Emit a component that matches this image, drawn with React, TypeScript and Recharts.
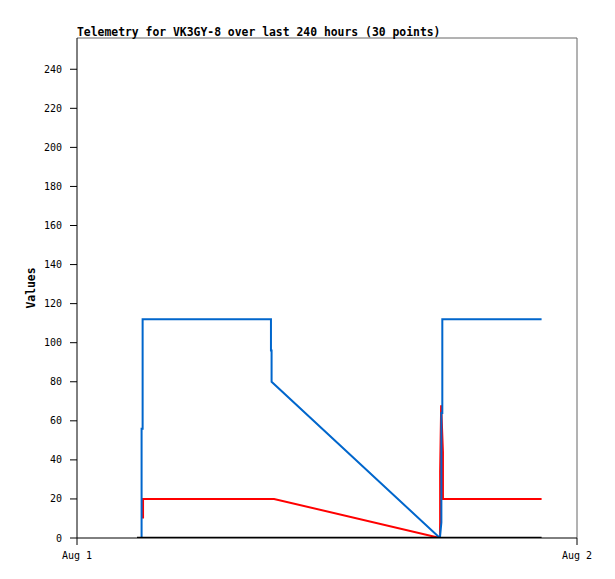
import React from 'react';
import {
    LineChart,
    Line,
    XAxis,
    YAxis,
    ReferenceLine,
    Label,
} from 'recharts';

// time in hours after Aug 1 00:00
const blueTimes = [3.1, 3.1, 3.15, 3.15, 9.31, 9.31, 9.34, 9.34, 17.42, 17.49, 17.49, 17.535, 17.535, 22.3];
const blueValues = [0, 56, 56, 112, 112, 96, 96, 80, 0, 8, 64, 64, 112, 112];

const redTimes = [3.17, 3.17, 9.46, 17.42, 17.43, 17.43, 17.48, 17.565, 17.565, 22.3];
const redValues = [10, 20, 20, 0, 8, 34, 68, 44, 20, 20];

const blackTimes = [2.88, 22.3];
const blackValues = [0, 0];

const xTicks = [0, 24];
const xTickLabels = ['Aug 1', 'Aug 2'];
const yTicks = [0, 20, 40, 60, 80, 100, 120, 140, 160, 180, 200, 220, 240];

const title = 'Telemetry for VK3GY-8 over last 240 hours (30 points)';

const toRows = (times: number[], values: number[]) =>
    times.map((t, i) => ({ t, v: values[i] }));

const blueData = toRows(blueTimes, blueValues);
const redData = toRows(redTimes, redValues);
const blackData = toRows(blackTimes, blackValues);

const mono = '"DejaVu Sans Mono", monospace';
const tickStyle = { fontSize: 10, fontFamily: mono, fill: '#000' };

export default function App() {
    return (
        <div style={{ position: 'absolute', left: 0, top: 0, width: 615, height: 579 }}>
            <LineChart
                width={615}
                height={579}
                margin={{ top: 38, right: 38, bottom: 11, left: 20 }}
            >
                <XAxis
                    type="number"
                    dataKey="t"
                    domain={[0, 24]}
                    ticks={xTicks}
                    tickFormatter={(v: number) => xTickLabels[xTicks.indexOf(v)]}
                    height={30}
                    tickSize={7}
                    tickMargin={7}
                    stroke="#000"
                    tick={tickStyle}
                    allowDataOverflow
                />
                <YAxis
                    type="number"
                    domain={[0, 256]}
                    ticks={yTicks}
                    width={57}
                    tickSize={7}
                    tickMargin={8}
                    stroke="#000"
                    tick={tickStyle}
                    allowDataOverflow
                >
                    <Label
                        content={() => (
                            <text
                                x={31}
                                y={288}
                                transform="rotate(-90 31 288)"
                                textAnchor="middle"
                                dominantBaseline="central"
                                fontFamily={mono}
                                fontWeight="bold"
                                fontSize={11.4}
                                fill="#000"
                            >
                                Values
                            </text>
                        )}
                    />
                </YAxis>
                <ReferenceLine y={256} stroke="#666" />
                <ReferenceLine x={24} stroke="#666" />
                <Line
                    data={redData}
                    dataKey="v"
                    type="linear"
                    stroke="#ff0000"
                    strokeWidth={2}
                    dot={false}
                    activeDot={false}
                    isAnimationActive={false}
                />
                <Line
                    data={blueData}
                    dataKey="v"
                    type="linear"
                    stroke="#0066cc"
                    strokeWidth={2}
                    dot={false}
                    activeDot={false}
                    isAnimationActive={false}
                />
                <Line
                    data={blackData}
                    dataKey="v"
                    type="linear"
                    stroke="#000"
                    strokeWidth={2.5}
                    dot={false}
                    activeDot={false}
                    isAnimationActive={false}
                />
            </LineChart>
            <svg
                width={615}
                height={50}
                style={{ position: 'absolute', left: 0, top: 0, pointerEvents: 'none' }}
            >
                <text
                    x={77}
                    y={35.5}
                    fontFamily={mono}
                    fontWeight="bold"
                    fontSize={11.4}
                    fill="#000"
                >
                    {title}
                </text>
            </svg>
        </div>
    );
}
